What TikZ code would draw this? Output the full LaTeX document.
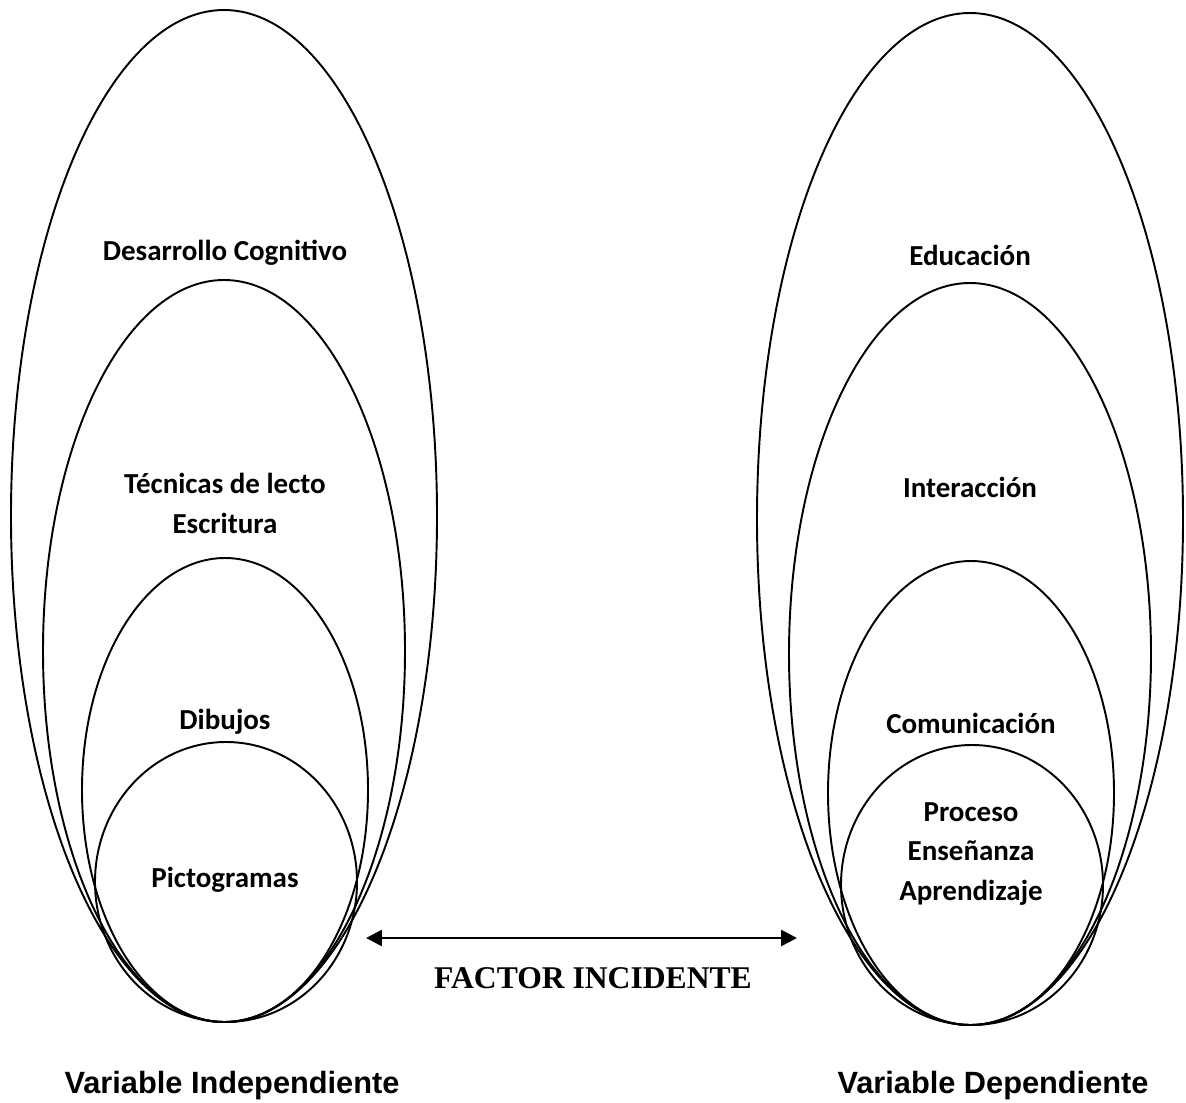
\documentclass[tikz,border=0pt]{standalone}
\usepackage{fontspec}
\setmainfont{Carlito}
\newfontfamily\arialfont{Liberation Sans}
\newfontfamily\timesfont{Liberation Serif}
\usetikzlibrary{arrows.meta}

\begin{document}
\begin{tikzpicture}[x=0.02cm, y=-0.02cm,
                        ring/.style={line width=1.1pt},
                        tag/.style={font=\bfseries\fontsize{16.5}{22.7}\selectfont, align=center},
                        varname/.style={font=\arialfont\bfseries\fontsize{17.5}{21}\selectfont},
                        link/.style={line width=1.5pt, {Triangle[length=9pt,width=9pt]}-{Triangle[length=9pt,width=9pt]}}
                        ]
                        \useasboundingbox (0,0) rectangle (1186,1102);
                        \def\B{1022} % common bottom of the rings

                        \foreach \dx/\dy in {0/0, 746/3} {
                            \begin{scope}[shift={(\dx,\dy)}]
                                \draw[ring] (224,\B-506) ellipse [x radius=213, y radius=506];
                                \draw[ring] (224,\B-371) ellipse [x radius=181, y radius=371];
                                \draw[ring] (225,\B-232) ellipse [x radius=143, y radius=232];
                                \draw[ring] (226,\B-140) ellipse [x radius=131, y radius=140];
                            \end{scope}
                        }

                        % left set
                        \node[tag] (desarrollo) at (225,253) {Desarrollo Cognitivo};
                        \node[tag] (tecnicas) at (225,503) {Técnicas de lecto\\Escritura};
                        \node[tag] (dibujos) at (225,722) {Dibujos};
                        \node[tag] (picto) at (225,880) {Pictogramas};
                        \node[varname] (indep) at (232,1086) {Variable Independiente};

                        % right set
                        \node[tag] (educacion) at (970,255) {Educación};
                        \node[tag] (interaccion) at (970,487) {Interacción};
                        \node[tag] (comunicacion) at (971,723) {Comunicación};
                        \node[tag] (proceso) at (971,854) {Proceso\\Enseñanza\\Aprendizaje};
                        \node[varname] (dep) at (993,1086) {Variable Dependiente};

                        % link between the sets
                        \coordinate (linkL) at (366,938);
                        \coordinate (linkR) at (797,938);
                        \draw[link] (linkL) -- (linkR);
                        \node[font=\timesfont\bfseries\fontsize{18}{22}\selectfont] (factor) at (593,978) {FACTOR INCIDENTE};
                    \end{tikzpicture}
\end{document}
